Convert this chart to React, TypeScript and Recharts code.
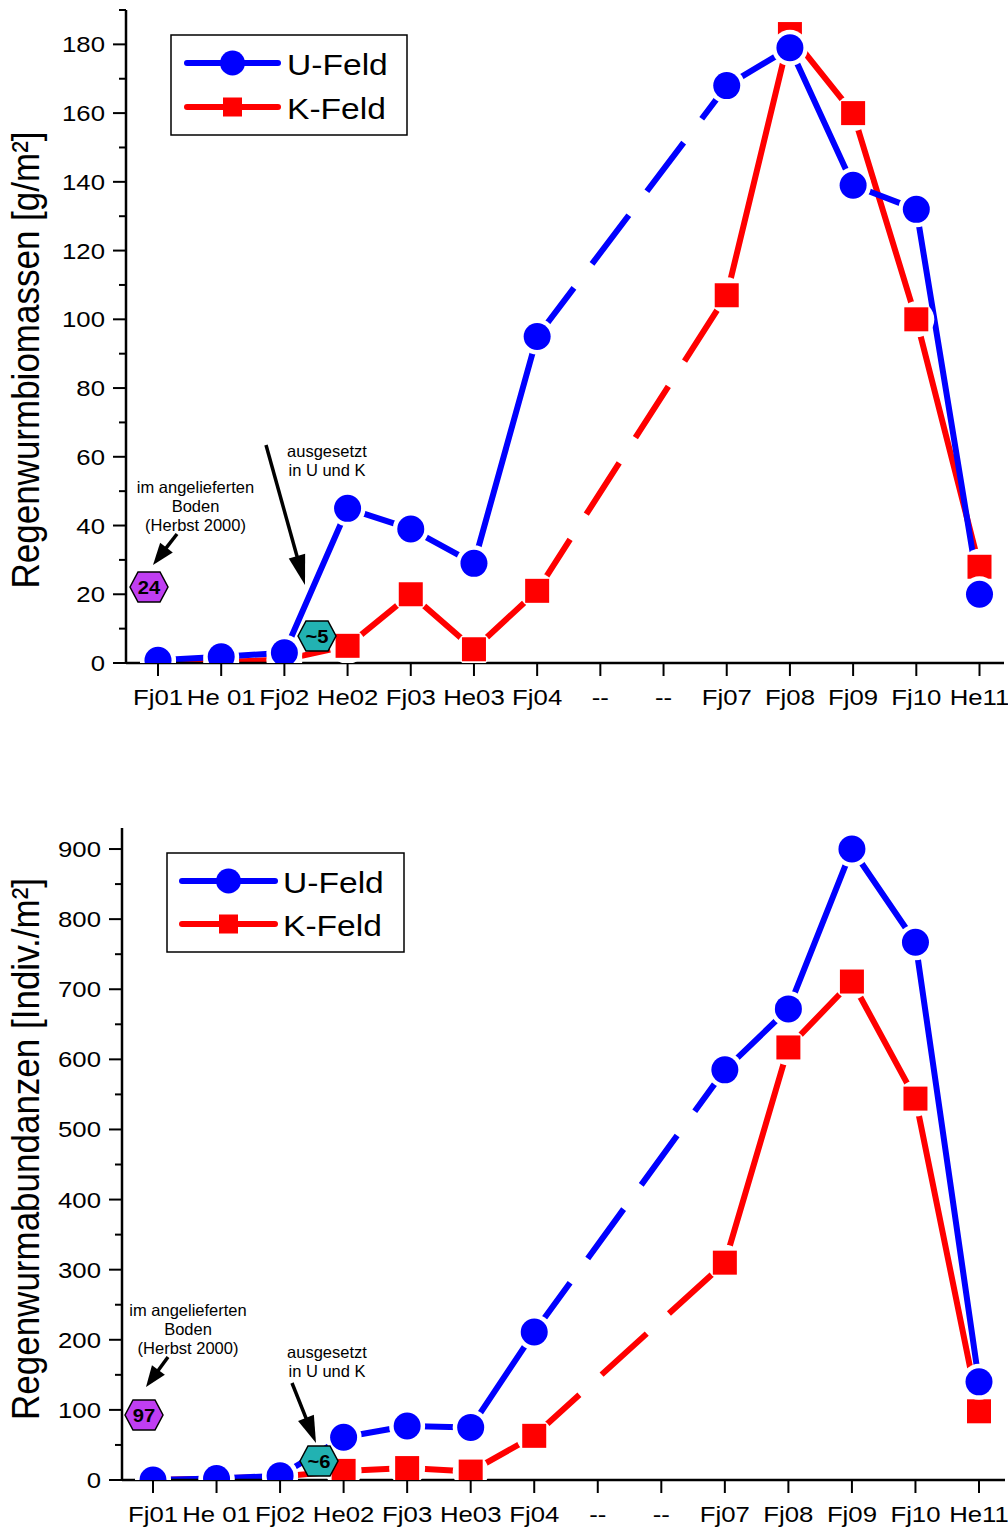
import React from 'react';
import { LineChart, Line, XAxis, YAxis } from 'recharts';

// x categories (the two "--" slots have no sampling)
const categories = ['Fj01', 'He 01', 'Fj02', 'He02', 'Fj03', 'He03', 'Fj04', '--', '--', 'Fj07', 'Fj08', 'Fj09', 'Fj10', 'He11'];

// Regenwurmbiomassen [g/m²]
const biomasseU = [0.8, 1.8, 3, 45, 39, 29, 95, null, null, 168, 179, 139, 132, 20];
const biomasseK = [0.3, 0.3, 1, 5, 20, 4, 21, null, null, 107, 183, 160, 100, 28];
const biomasseTicks = [0, 10, 20, 30, 40, 50, 60, 70, 80, 90, 100, 110, 120, 130, 140, 150, 160, 170, 180, 190];

// Regenwurmabundanzen [Indiv./m²]
const abundanzU = [0, 2, 6, 61, 77, 75, 211, null, null, 585, 672, 900, 767, 140];
const abundanzK = [0, 2, 5, 13, 17, 12, 63, null, null, 310, 617, 711, 544, 98];
const abundanzTicks = [0, 50, 100, 150, 200, 250, 300, 350, 400, 450, 500, 550, 600, 650, 700, 750, 800, 850, 900];

const BLUE = '#0000ff';
const RED = '#ff0000';
const FONT = '"Liberation Sans", Arial, sans-serif';
// the original lettering is a little wider than Arial
const SX = 1.12;
const stretch = (x: number, y: number) => `translate(${x},${y}) scale(${SX},1)`;

type Val = number | null;

// keep only the points on both sides of a gap, so a dashed line can bridge it
const bridge = (arr: Val[]) =>
    arr.map((v, i) => {
        if (v == null) return null;
        const prevNull = i > 0 && arr[i - 1] == null;
        const nextNull = i < arr.length - 1 && arr[i + 1] == null;
        return prevNull || nextNull ? v : null;
    });

const makeDot = (kind: 'circle' | 'square', color: string, bottom: number) => (props: any) => {
    const { cx, cy, index } = props;
    if (cx == null || cy == null || props.value == null || Number.isNaN(cy)) return <g key={`d-${index}`} />;
    const s = 22;
    const h = Math.max(0, Math.min(2 * s, bottom - (cy - s)));
    return (
        <svg key={`d-${index}`} x={cx - s} y={cy - s} width={2 * s} height={h} overflow="hidden">
            <circle cx={s} cy={s} r={18} fill="#fff" />
            {kind === 'circle' ? (
                <circle cx={s} cy={s} r={13.5} fill={color} />
            ) : (
                <rect x={s - 12} y={s - 12} width={24} height={24} fill={color} />
            )}
        </svg>
    );
};

const YTick = (props: any) => {
    const { x, y, payload, major } = props;
    const isMajor = payload.value % major === 0;
    return (
        <g>
            <line x1={x} x2={x - (isMajor ? 13 : 7)} y1={y} y2={y} stroke="#000" strokeWidth={2} />
            {isMajor && (
                <text transform={stretch(x - 21, y)} textAnchor="end" dominantBaseline="central" fontSize={23} fill="#000" fontFamily={FONT}>
                    {payload.value}
                </text>
            )}
        </g>
    );
};

const XTick = (props: any) => {
    const { x, y, payload } = props;
    return (
        <g>
            <line x1={x} x2={x} y1={y} y2={y + 13} stroke="#000" strokeWidth={2} />
            <text transform={stretch(x, y + 42)} textAnchor="middle" fontSize={23} fill="#000" fontFamily={FONT}>
                {categories[payload.value]}
            </text>
        </g>
    );
};

interface PanelProps {
    top: number;
    height: number;
    plotTop: number;
    plotBottom: number;
    plotLeft: number;
    plotRight: number;
    padLeft: number;
    padRight: number;
    u: Val[];
    k: Val[];
    max: number;
    ticks: number[];
    major: number;
}

const Panel: React.FC<PanelProps> = ({ top, height, plotTop, plotBottom, plotLeft, plotRight, padLeft, padRight, u, k, max, ticks, major }) => {
    const uGap = bridge(u);
    const kGap = bridge(k);
    const rows = categories.map((_, i) => ({ i, u: u[i], k: k[i], uGap: uGap[i], kGap: kGap[i] }));
    const localBottom = plotBottom - top;
    const axisStyle = { stroke: '#000', strokeWidth: 2.5 };
    const padding = { left: padLeft, right: padRight };

    return (
        <div style={{ position: 'absolute', left: 0, top, width: 1008, height }}>
            <LineChart
                width={1008}
                height={height}
                data={rows}
                margin={{ top: plotTop - top, right: 1008 - plotRight, left: 0, bottom: 0 }}
            >
                <Line dataKey="kGap" stroke={RED} strokeWidth={6} strokeDasharray="61 30" strokeLinecap="butt"
                    dot={false} activeDot={false} connectNulls isAnimationActive={false} />
                <Line dataKey="k" stroke={RED} strokeWidth={6} strokeLinecap="round" strokeLinejoin="round"
                    dot={makeDot('square', RED, localBottom)} activeDot={false} isAnimationActive={false} />
                <Line dataKey="uGap" stroke={BLUE} strokeWidth={6} strokeDasharray="61 30" strokeLinecap="butt"
                    dot={false} activeDot={false} connectNulls isAnimationActive={false} />
                <Line dataKey="u" stroke={BLUE} strokeWidth={6} strokeLinecap="round" strokeLinejoin="round"
                    dot={makeDot('circle', BLUE, localBottom)} activeDot={false} isAnimationActive={false} />

                <XAxis dataKey="i" type="category" interval={0} height={height - localBottom} padding={padding}
                    tickSize={0} tickMargin={0} tickLine={false} axisLine={axisStyle} tick={<XTick />} />
                <XAxis xAxisId="top" dataKey="i" type="category" orientation="top" interval={0} height={0} padding={padding}
                    tickSize={4} tickFormatter={() => ''} axisLine={axisStyle} tickLine={{ stroke: '#000', strokeWidth: 1.5 }} />
                <YAxis type="number" domain={[0, max]} ticks={ticks} interval={0} allowDataOverflow width={plotLeft}
                    tickSize={0} tickMargin={0} tickLine={false} axisLine={axisStyle} tick={<YTick major={major} />} />
                <YAxis yAxisId="right" type="number" orientation="right" domain={[0, max]} ticks={ticks} interval={0}
                    width={0} tickSize={4} tickFormatter={() => ''} axisLine={axisStyle} tickLine={{ stroke: '#000', strokeWidth: 1.5 }} />
            </LineChart>
        </div>
    );
};

const Arrow = ({ x1, y1, x2, y2, len, w }: { x1: number; y1: number; x2: number; y2: number; len: number; w: number }) => {
    const dx = x2 - x1;
    const dy = y2 - y1;
    const d = Math.hypot(dx, dy);
    const ux = dx / d;
    const uy = dy / d;
    const bx = x2 - ux * len;
    const by = y2 - uy * len;
    const pts = `${x2},${y2} ${bx - uy * w / 2},${by + ux * w / 2} ${bx + uy * w / 2},${by - ux * w / 2}`;
    return (
        <g>
            <line x1={x1} y1={y1} x2={bx + ux * 2} y2={by + uy * 2} stroke="#000" strokeWidth={3.5} />
            <polygon points={pts} fill="#000" />
        </g>
    );
};

const Hexagon = ({ cx, cy, fill, label }: { cx: number; cy: number; fill: string; label: string }) => {
    const w = 38;
    const h = 30;
    const pts = [
        [cx - w / 2, cy], [cx - 11, cy - h / 2], [cx + 11, cy - h / 2],
        [cx + w / 2, cy], [cx + 11, cy + h / 2], [cx - 11, cy + h / 2],
    ].map(p => p.join(',')).join(' ');
    return (
        <g>
            <polygon points={pts} fill={fill} stroke="#000" strokeWidth={1.5} />
            <text transform={stretch(cx, cy + 1)} textAnchor="middle" dominantBaseline="central" fontSize={18} fontWeight="bold" fill="#000">
                {label}
            </text>
        </g>
    );
};

const LegendBox = ({ x, y, w, h, row1, row2, lineX1, lineX2, textX }: any) => {
    const mid = (lineX1 + lineX2) / 2;
    return (
        <g>
            <rect x={x} y={y} width={w} height={h} fill="#fff" stroke="#000" strokeWidth={1.5} />
            <line x1={lineX1} x2={lineX2} y1={row1} y2={row1} stroke={BLUE} strokeWidth={6} strokeLinecap="round" />
            <circle cx={mid} cy={row1} r={12.5} fill={BLUE} />
            <text transform={stretch(textX, row1 + 11.5)} fontSize={30} fill="#000">U-Feld</text>
            <line x1={lineX1} x2={lineX2} y1={row2} y2={row2} stroke={RED} strokeWidth={6} strokeLinecap="round" />
            <rect x={mid - 9.5} y={row2 - 9.5} width={19} height={19} fill={RED} />
            <text transform={stretch(textX, row2 + 11.5)} fontSize={30} fill="#000">K-Feld</text>
        </g>
    );
};

const Notes = ({ cx, y0, cx2, y1 }: { cx: number; y0: number; cx2: number; y1: number }) => (
    <g fontSize={16.5} fill="#000" textAnchor="middle">
        <text x={cx} y={y0}>im angelieferten</text>
        <text x={cx} y={y0 + 19}>Boden</text>
        <text x={cx} y={y0 + 37.5}>(Herbst 2000)</text>
        <text x={cx2} y={y1}>ausgesetzt</text>
        <text x={cx2} y={y1 + 18.5}>in U und K</text>
    </g>
);

const App: React.FC = () => {
    return (
        <div style={{ position: 'relative', width: 1008, height: 1529, fontFamily: FONT, background: '#fff' }}>
            <style>{'body{margin:0;overflow:hidden;}'}</style>
            <Panel top={0} height={760} plotTop={10} plotBottom={663} plotLeft={126} plotRight={1004}
                padLeft={32} padRight={24.5}
                u={biomasseU} k={biomasseK} max={190} ticks={biomasseTicks} major={20} />
            <Panel top={808} height={721} plotTop={828} plotBottom={1480} plotLeft={122} plotRight={1005}
                padLeft={31} padRight={26}
                u={abundanzU} k={abundanzK} max={930} ticks={abundanzTicks} major={100} />

            <svg width={1008} height={1529} style={{ position: 'absolute', left: 0, top: 0, pointerEvents: 'none' }}
                fontFamily={FONT}>
                <text transform="translate(39,360) rotate(-90) scale(1,1.1)" textAnchor="middle" fontSize={35} fill="#000">
                    Regenwurmbiomassen [g/m²]
                </text>
                <text transform="translate(39,1149) rotate(-90) scale(1,1.1)" textAnchor="middle" fontSize={35} fill="#000">
                    Regenwurmabundanzen [Indiv./m²]
                </text>

                <LegendBox x={171} y={35} w={236} h={100} row1={63} row2={107} lineX1={187} lineX2={278} textX={287} />
                <LegendBox x={167} y={853} w={237} h={99} row1={881} row2={924} lineX1={182} lineX2={275} textX={283} />

                <Notes cx={195.5} y0={493} cx2={327} y1={457} />
                <Arrow x1={177} y1={534} x2={153} y2={565} len={22} w={16} />
                <Arrow x1={266} y1={445} x2={305} y2={585} len={30} w={17} />
                <Hexagon cx={149} cy={587} fill="#c03ef2" label="24" />
                <Hexagon cx={317} cy={636} fill="#22b2b2" label="~5" />

                <Notes cx={188} y0={1316} cx2={327} y1={1358} />
                <Arrow x1={168} y1={1357} x2={146} y2={1387} len={21} w={16} />
                <Arrow x1={292} y1={1383} x2={316} y2={1443} len={27} w={17} />
                <Hexagon cx={144} cy={1415} fill="#c03ef2" label="97" />
                <Hexagon cx={319} cy={1461} fill="#22b2b2" label="~6" />
            </svg>
        </div>
    );
};

export default App;
